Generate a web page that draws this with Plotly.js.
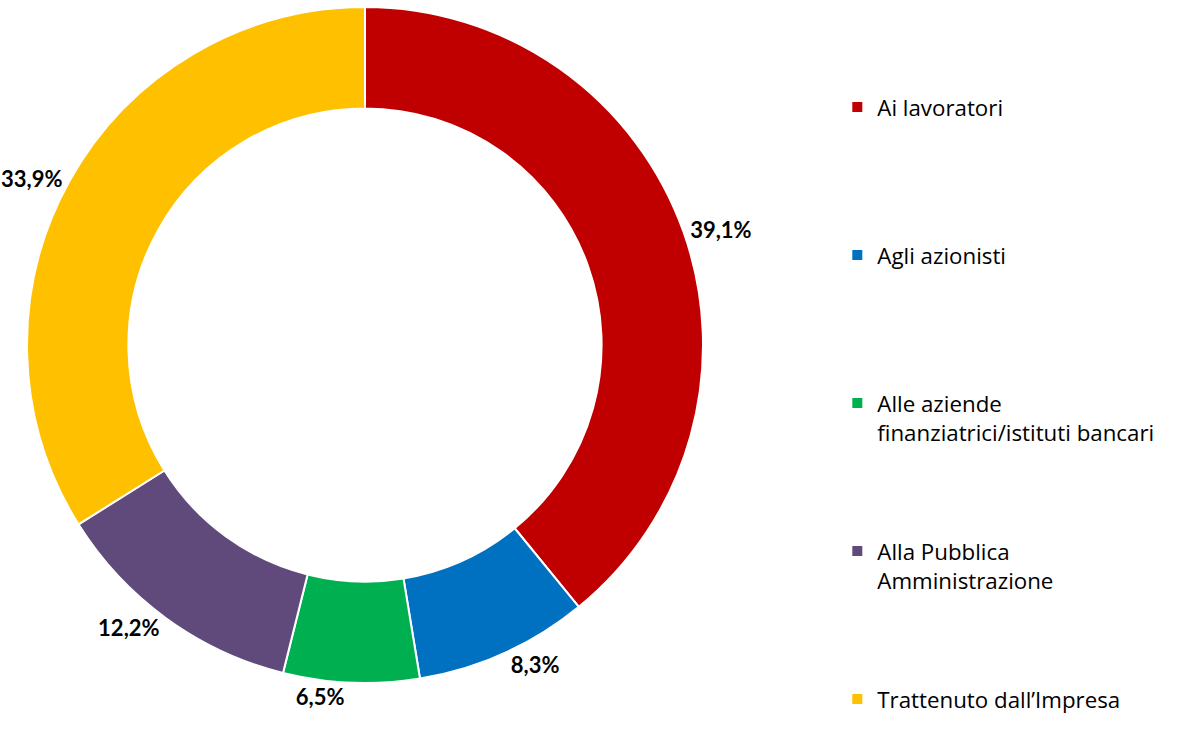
<!DOCTYPE html>
<html>
<head>
<meta charset="utf-8">
<script src="https://cdn.plot.ly/plotly-3.0.1.min.js"></script>
<style>html,body{margin:0;padding:0;background:#fff;}#chart{width:1186px;height:751px;}</style>
</head>
<body>
<div id="chart"></div>
<script>
const categories = [
  "Ai lavoratori",
  "Agli azionisti",
  "Alle aziende<br>finanziatrici/istituti bancari",
  "Alla Pubblica<br>Amministrazione",
  "Trattenuto dall\u2019Impresa"
];
const shares = [39.1, 8.3, 6.5, 12.2, 33.9];
const colors = ["#C00000", "#0070C0", "#00B050", "#604A7B", "#FFC000"];

// pad legend labels (all but the last) so each entry occupies the same vertical slot
const LINES_PER_ENTRY = 5;
const legendLabels = categories.map((c, i) => {
  if (i === categories.length - 1) return c;
  const n = c.split("<br>").length;
  return c + "<br>\u00a0".repeat(LINES_PER_ENTRY - n);
});

const labelFont = { family: "Lato, 'DejaVu Sans', sans-serif", size: 22, color: "#000000", weight: "bold" };

const trace = {
  type: "pie",
  labels: legendLabels,
  values: shares,
  sort: false,
  direction: "clockwise",
  rotation: 0,
  hole: 0.70,
  marker: { colors: colors, line: { color: "#ffffff", width: 2 } },
  textposition: "outside",
  texttemplate: "%{value:.1f}%",
  textfont: labelFont,
  outsidetextfont: labelFont,
  domain: { x: [27/1186, 703/1186], y: [0, 1] },
  hoverinfo: "percent"
};

const layout = {
  width: 1186,
  height: 751,
  margin: { l: 0, r: 0, t: 7, b: 68 },
  paper_bgcolor: "#ffffff",
  separators: ",.",
  showlegend: true,
  legend: {
    x: 0.706, xanchor: "left",
    y: 0.883, yanchor: "top",
    valign: "top",
    font: { family: "'Open Sans', 'DejaVu Sans', sans-serif", size: 22.3, color: "#000000" },
    bgcolor: "rgba(0,0,0,0)"
  }
};

Plotly.newPlot("chart", [trace], layout, { displayModeBar: false, staticPlot: true });
</script>
</body>
</html>
